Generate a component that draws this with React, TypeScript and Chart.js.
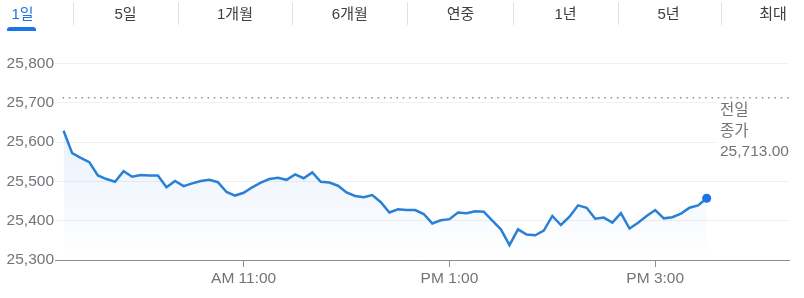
import React, { useEffect, useRef } from "react";
import { Chart, registerables } from "chart.js";

Chart.register(...registerables);

// ---- data ----
const times = [
  "9:15", "9:20", "9:25", "9:30", "9:35", "9:40", "9:45", "9:50", "9:55",
  "10:00", "10:05", "10:10", "10:15", "10:20", "10:25", "10:30", "10:35", "10:40", "10:45", "10:50", "10:55",
  "11:00", "11:05", "11:10", "11:15", "11:20", "11:25", "11:30", "11:35", "11:40", "11:45", "11:50", "11:55",
  "12:00", "12:05", "12:10", "12:15", "12:20", "12:25", "12:30", "12:35", "12:40", "12:45", "12:50", "12:55",
  "13:00", "13:05", "13:10", "13:15", "13:20", "13:25", "13:30", "13:35", "13:40", "13:45", "13:50", "13:55",
  "14:00", "14:05", "14:10", "14:15", "14:20", "14:25", "14:30", "14:35", "14:40", "14:45", "14:50", "14:55",
  "15:00", "15:05", "15:10", "15:15", "15:20", "15:25", "15:30",
];

const prices = [
  25629, 25572, 25560, 25549, 25515, 25506, 25499, 25526, 25512, 25516,
  25515, 25515, 25485, 25501, 25488, 25495, 25501, 25504, 25498, 25473,
  25464, 25471, 25485, 25497, 25506, 25509, 25504, 25518, 25508,
  25523, 25499, 25497, 25489, 25472, 25463, 25460, 25465, 25447, 25421,
  25429, 25427, 25427, 25417, 25393, 25401, 25404, 25421, 25419, 25424,
  25423, 25400, 25378, 25338, 25378, 25365, 25363, 25375,
  25412, 25389, 25410, 25439, 25433, 25405, 25408, 25395, 25419, 25380,
  25395, 25412, 25427, 25406, 25409, 25418, 25433, 25439, 25457,
];

const yTicks = [25300, 25400, 25500, 25600, 25700, 25800];
const xTickTimes = ["11:00", "13:00", "15:00"];
const xTickLabels = ["AM 11:00", "PM 1:00", "PM 3:00"];
const xRangeTimes = ["9:10", "16:18"];

const prevClose = 25713.0;
const prevCloseLines = ["전일", "종가", "25,713.00"];

const tabs = ["1일", "5일", "1개월", "6개월", "연중", "1년", "5년", "최대"];
const selectedTab = 0;

// ---- layout / style ----
const tabCenters = [22.5, 125.5, 235, 349.8, 460.5, 565.5, 668.5, 773];
const tabSeparators = [73.3, 177.7, 292.3, 407.3, 513.3, 617.7, 720.7];

const BLUE = "#1a73e8";
const LINE = "#2a80d4";
const GREY_TEXT = "#70757a";
const FONT = '"Liberation Sans", Arial, "Noto Sans CJK KR", sans-serif';

const toMin = (s: string) => {
  const [h, m] = s.split(":").map(Number);
  return h * 60 + m;
};

const prevClosePlugin = {
  id: "prevClose",
  afterDatasetsDraw(chart: any) {
    const { ctx, chartArea, scales } = chart;
    const y = scales.y.getPixelForValue(prevClose);
    const x0 = scales.x.getPixelForValue(toMin(times[0]));
    ctx.save();
    ctx.strokeStyle = "#8a8e93";
    ctx.lineWidth = 1.5;
    ctx.setLineDash([1.5, 4.8]);
    ctx.beginPath();
    ctx.moveTo(x0 - 1, y);
    ctx.lineTo(chartArea.right, y);
    ctx.stroke();
    ctx.setLineDash([]);
    // label box
    ctx.fillStyle = "#ffffff";
    ctx.fillRect(716, y + 2.5, 804 - 716, 62);
    ctx.fillStyle = GREY_TEXT;
    ctx.font = `15.5px ${FONT}`;
    ctx.textAlign = "left";
    ctx.textBaseline = "middle";
    prevCloseLines.forEach((t, i) => {
      ctx.fillText(t, 720, y + 13.5 + i * 20.5);
    });
    ctx.restore();
  },
};

function ChartCanvas() {
  const ref = useRef<HTMLCanvasElement | null>(null);
  useEffect(() => {
    if (!ref.current) return;
    const last = prices.length - 1;
    const chart = new Chart(ref.current, {
      type: "line",
      data: {
        datasets: [
          {
            data: times.map((t, i) => ({ x: toMin(t), y: prices[i] })),
            borderColor: LINE,
            borderWidth: 2.5,
            tension: 0,
            fill: "start",
            backgroundColor: (c: any) => {
              const { chart: ch } = c;
              const area = ch.chartArea;
              if (!area) return "rgba(26,115,232,0.08)";
              const g = ch.ctx.createLinearGradient(0, area.top, 0, area.bottom);
              g.addColorStop(0, "rgba(26,115,232,0.15)");
              g.addColorStop(1, "rgba(26,115,232,0)");
              return g;
            },
            pointRadius: (c: any) => (c.dataIndex === last ? 4.5 : 0),
            pointHoverRadius: (c: any) => (c.dataIndex === last ? 4.5 : 0),
            pointBackgroundColor: BLUE,
            pointBorderWidth: 0,
          },
        ],
      },
      options: {
        responsive: false,
        animation: false,
        events: [],
        layout: { padding: { top: 63.5, right: 15, bottom: 0, left: 0 } },
        plugins: { legend: { display: false }, tooltip: { enabled: false } },
        scales: {
          x: {
            type: "linear",
            min: toMin(xRangeTimes[0]),
            max: toMin(xRangeTimes[1]),
            afterBuildTicks: (s: any) => {
              s.ticks = xTickTimes.map((t) => ({ value: toMin(t) }));
            },
            afterFit: (s: any) => {
              s.height = 38;
            },
            ticks: {
              autoSkip: false,
              maxRotation: 0,
              padding: 2,
              color: GREY_TEXT,
              font: { family: FONT, size: 15.5 },
              callback: (v: any) => {
                const i = xTickTimes.findIndex((t) => toMin(t) === v);
                return i >= 0 ? xTickLabels[i] : "";
              },
            },
            grid: {
              drawOnChartArea: false,
              drawTicks: true,
              tickLength: 7,
              color: "#8a8f94",
            },
            border: { display: true, color: "#8a8f94", width: 1 },
          },
          y: {
            min: yTicks[0],
            max: yTicks[yTicks.length - 1],
            afterBuildTicks: (s: any) => {
              s.ticks = yTicks.map((v) => ({ value: v }));
            },
            afterFit: (s: any) => {
              s.width = 55;
            },
            ticks: {
              padding: 1,
              color: GREY_TEXT,
              font: { family: FONT, size: 15.5 },
              callback: (v: any) => Number(v).toLocaleString("en-US"),
            },
            grid: { color: "#eef0f2", drawTicks: false, lineWidth: 1 },
            border: { display: false },
          },
        },
      },
      plugins: [prevClosePlugin],
    } as any);
    return () => chart.destroy();
  }, []);
  return (
    <canvas
      ref={ref}
      width={804}
      height={298}
      style={{ position: "absolute", left: 0, top: 0, width: 804, height: 298, display: "block" }}
    />
  );
}

export default function App() {
  return (
    <div
      style={{
        position: "absolute",
        left: 0,
        top: 0,
        width: 804,
        height: 298,
        overflow: "hidden",
        background: "#ffffff",
        fontFamily: FONT,
      }}
    >
      <ChartCanvas />
      {tabs.map((t, i) => (
        <div
          key={t}
          style={{
            position: "absolute",
            left: tabCenters[i] - 50,
            width: 100,
            top: 5,
            lineHeight: "17px",
            fontSize: 15,
            textAlign: "center",
            color: i === selectedTab ? BLUE : "#3c4043",
            whiteSpace: "nowrap",
          }}
        >
          {t}
        </div>
      ))}
      {tabSeparators.map((x, i) => (
        <div
          key={i}
          style={{
            position: "absolute",
            left: x,
            top: 2,
            width: 1,
            height: 23,
            background: "#dfe1e5",
          }}
        />
      ))}
      <div
        style={{
          position: "absolute",
          left: 7,
          top: 27,
          width: 29,
          height: 4,
          background: BLUE,
          borderRadius: "3px 3px 0 0",
        }}
      />
    </div>
  );
}
